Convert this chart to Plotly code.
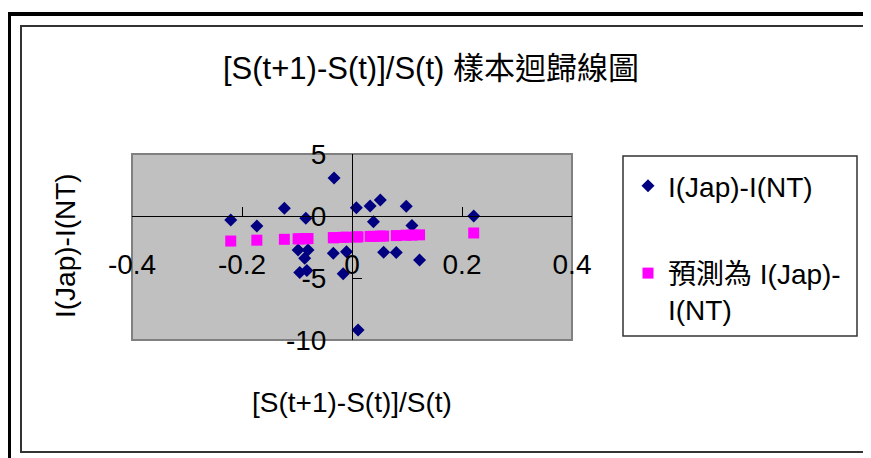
import plotly.graph_objects as go

# ---- data ----
x_vals = [-0.2205, -0.173, -0.123, -0.084, -0.0326, -0.098, -0.080, -0.086,
          -0.095, -0.082, -0.034, -0.010, -0.016, 0.011, 0.008, 0.033,
          0.0515, 0.0986, 0.039, 0.109, 0.0575, 0.0805, 0.1228, 0.2213]
y_actual = [-0.32, -0.81, 0.62, -0.19, 3.06, -2.74, -2.74, -3.41,
            -4.55, -4.40, -3.00, -2.88, -4.65, -9.19, 0.66, 0.81,
            1.29, 0.78, -0.46, -0.77, -2.92, -2.94, -3.55, 0.00]
y_pred = [-2.02, -1.95, -1.88, -1.82, -1.75, -1.84, -1.82, -1.83,
          -1.84, -1.82, -1.75, -1.71, -1.72, -1.68, -1.69, -1.65,
          -1.62, -1.55, -1.64, -1.54, -1.62, -1.58, -1.52, -1.37]
x_ticks = [-0.4, -0.2, 0, 0.2, 0.4]
x_tick_text = ["-0.4", "-0.2", "0", "0.2", "0.4"]
y_ticks = [-10, -5, 0, 5]
y_tick_text = ["-10", "-5", "0", "5"]
series_names = ["I(Jap)-I(NT)", "預測為 I(Jap)-<br>I(NT)"]
title_text = "[S(t+1)-S(t)]/S(t) 樣本迴歸線圖"
x_title = "[S(t+1)-S(t)]/S(t)"
y_title = "I(Jap)-I(NT)"

# ---- geometry helpers (page has an 8px body margin) ----
OFF = 8
W, H = 871 - OFF, 458 - OFF
PLOT_L, PLOT_R, PLOT_T, PLOT_B = 132, 572, 154, 340   # page pixels
L, T = PLOT_L - OFF, PLOT_T - OFF
R, B = W - (PLOT_R - OFF), H - (PLOT_B - OFF)
PW, PH = W - L - R, H - T - B


def px(x):
    return (x - OFF - L) / PW


def py(y):
    return (H - B - (y - OFF)) / PH


FONT = "Liberation Sans, Arial, Noto Sans CJK TC, sans-serif"
FS = 28

fig = go.Figure()
fig.add_trace(go.Scatter(
    x=x_vals, y=y_actual, mode="markers", name=series_names[0],
    legendgroup="a",
    marker=dict(symbol="diamond", size=10, color="#000080",
                line=dict(width=0)),
))
fig.add_trace(go.Scatter(
    x=x_vals, y=y_pred, mode="markers", name=series_names[1],
    legendgroup="b",
    marker=dict(symbol="square", size=11, color="#FF00FF",
                line=dict(width=0)),
))

shapes = [
    # plot-area border
    dict(type="rect", xref="paper", yref="paper", x0=0, x1=1, y0=0, y1=1,
         line=dict(color="#808080", width=2), layer="below"),
    # inner chart border
    dict(type="rect", xref="paper", yref="paper", x0=px(21), x1=px(864),
         y0=py(452), y1=py(26), line=dict(color="#333333", width=2)),
    # outer thick frame lines
    dict(type="line", xref="paper", yref="paper", x0=px(7), x1=px(880),
         y0=py(14), y1=py(14), line=dict(color="black", width=4)),
    dict(type="line", xref="paper", yref="paper", x0=px(9), x1=px(9),
         y0=py(12), y1=py(470), line=dict(color="black", width=4)),
    # legend box
    dict(type="rect", xref="paper", yref="paper", x0=px(623), x1=px(857),
         y0=py(336), y1=py(156), line=dict(color="#333333", width=1.5)),
]

annotations = [
    dict(text=title_text, xref="paper", yref="paper", x=px(431), y=py(68),
         showarrow=False, font=dict(size=31, family=FONT, color="black"),
         xanchor="center", yanchor="middle"),
    dict(text=x_title, xref="paper", yref="paper", x=px(352), y=py(402),
         showarrow=False, font=dict(size=FS, family=FONT, color="black"),
         xanchor="center", yanchor="middle"),
    dict(text=y_title, xref="paper", yref="paper", x=px(65), y=py(246),
         showarrow=False, textangle=-90,
         font=dict(size=FS, family=FONT, color="black"),
         xanchor="center", yanchor="middle"),
]

fig.update_layout(
    width=W, height=H,
    margin=dict(l=L, r=R, t=T, b=B, pad=0),
    paper_bgcolor="white",
    plot_bgcolor="#C0C0C0",
    font=dict(family=FONT, size=FS, color="black"),
    showlegend=True,
    legend=dict(
        x=px(628), y=py(161), xanchor="left", yanchor="top",
        bgcolor="rgba(0,0,0,0)", borderwidth=0,
        font=dict(size=FS, family=FONT, color="black"),
        traceorder="grouped", tracegroupgap=48, valign="top",
    ),
    xaxis=dict(
        range=[-0.4, 0.4], tickvals=x_ticks, ticktext=x_tick_text,
        anchor="free", position=2 / 3,
        showline=True, linecolor="black", linewidth=1,
        ticks="inside", ticklen=9, tickcolor="black", tickwidth=1,
        showgrid=False, zeroline=False, ticklabelstandoff=23,
        tickfont=dict(size=FS, family=FONT, color="black"),
        fixedrange=True,
    ),
    yaxis=dict(
        range=[-10, 5], tickvals=y_ticks, ticktext=y_tick_text,
        anchor="free", position=0.5,
        showline=True, linecolor="black", linewidth=1,
        ticks="inside", ticklen=9, tickcolor="black", tickwidth=1,
        showgrid=False, zeroline=False, ticklabelstandoff=20,
        tickfont=dict(size=FS, family=FONT, color="black"),
        fixedrange=True,
    ),
    shapes=shapes,
    annotations=annotations,
)

fig.write_html("out.html")
